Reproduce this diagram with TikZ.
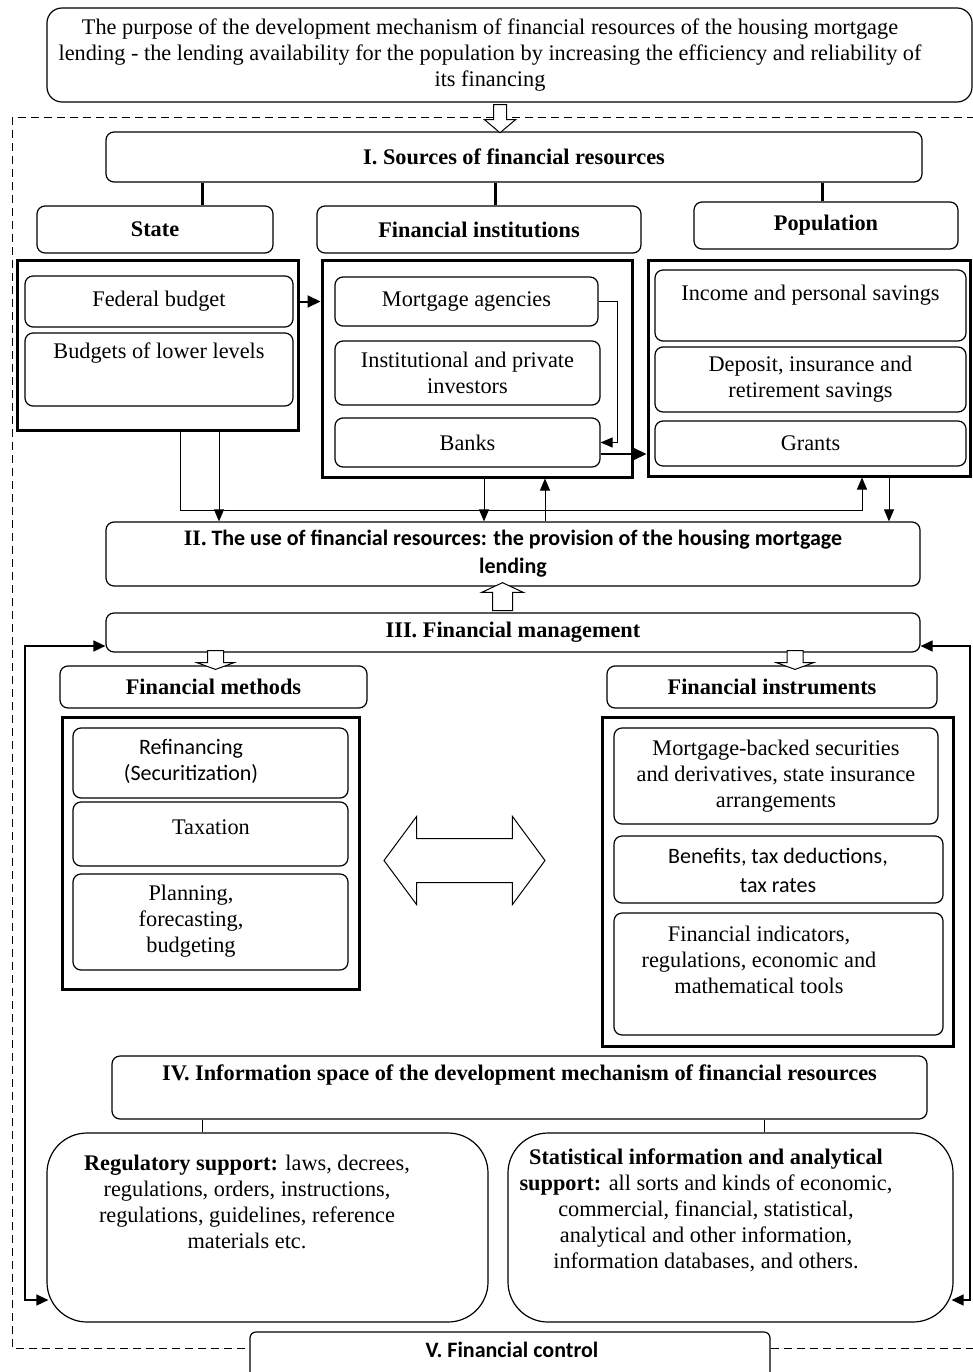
\documentclass[tikz,border=0pt]{standalone}
\usepackage{fontspec}
\setmainfont{Liberation Serif}
\newfontfamily\calfont{Carlito}
\usetikzlibrary{shapes.arrows,arrows.meta}

\begin{document}
\begin{tikzpicture}[x=1pt,y=-1pt,
  sz/.style 2 args={minimum width=#1pt,minimum height=#2pt},
  box/.style={draw,rounded corners=8pt,line width=1.2pt,inner sep=0pt},
  frm/.style={draw,line width=3pt,inner sep=0pt},
  txt/.style={align=center,inner sep=0pt,font=\fontsize{22.3}{26}\selectfont},
  hd/.style={txt,font=\fontsize{22.3}{26}\selectfont\bfseries},
  cal/.style={txt,font=\fontsize{22}{26}\selectfont\calfont},
  link/.style={line width=1pt,-{Triangle[length=12pt,width=10pt]}},
  bold/.style={line width=2pt,-{Triangle[length=13pt,width=12pt]}},
  hollow/.style={draw,line width=1pt,fill=white},
  frame/.style={line width=1pt,dash pattern=on 8pt off 5pt}]
  \useasboundingbox (0,0) rectangle (973,1372);
  \clip (0,0) rectangle (973,1372);
  % columns and levels used by the connectors
  \coordinate (lnS) at (202,0);
  \coordinate (lnF) at (495,0);
  \coordinate (lnP) at (822,0);
  \coordinate (stL) at (180,0);
  \coordinate (stR) at (219,0);
  \coordinate (fiL) at (484,0);
  \coordinate (fiR) at (545,0);
  \coordinate (poL) at (862,0);
  \coordinate (poR) at (889,0);
  \coordinate (busY) at (0,510);
  \coordinate (ivL) at (202,0);
  \coordinate (ivR) at (764,0);
  \coordinate (sideL) at (25,0);
  \coordinate (sideR) at (970,0);
  \coordinate (lowY) at (0,1300);
  \coordinate (fL) at (12,0);
  \coordinate (fR) at (975,0);
  \coordinate (fTop) at (0,118);
  \coordinate (fB) at (0,1348);

  % goal
  \node[box,rounded corners=15pt,sz={925}{94}] (purpose) at (509.5,55) {};
  \node[txt] (purpose-t) at (490,55) {The purpose of the development mechanism of financial resources of the housing mortgage\\lending - the lending availability for the population by increasing the efficiency and reliability of\\its financing};

  % I. sources
  \node[box,hd,sz={816}{50}] (srcI) at (514,157) {I. Sources of financial resources};
  \node[box,hd,sz={236}{47}] (state) at (155,229.5) {State};
  \node[box,hd,sz={324}{47}] (finst) at (479,229.5) {Financial institutions};
  \node[box,hd,sz={264}{47}] (popul) at (826,225.5) {Population};
  \node[frm,sz={281}{170}] (stateF) at (157.5,345) {};
  \node[frm,sz={310}{217}] (finstF) at (477,368.5) {};
  \node[frm,sz={322}{216}] (populF) at (809,368) {};
  \node[box,txt,sz={268}{51}] (fedb) at (159,301.5) {Federal budget};
  \node[box,sz={268}{73}] (lowerb) at (159,369.5) {};
  \node[txt] (lowerb-t) at (159,353) {Budgets of lower levels};
  \node[box,txt,sz={263}{49}] (magen) at (466.5,301.5) {Mortgage agencies};
  \node[box,txt,sz={265}{64}] (invest) at (467.5,373) {Institutional and private\\investors};
  \node[box,txt,sz={265}{49}] (banks) at (467.5,442.5) {Banks};
  \node[box,sz={311}{71}] (income) at (810.5,305.5) {};
  \node[txt] (income-t) at (810.5,295) {Income and personal savings};
  \node[box,txt,sz={311}{65}] (deposit) at (810.5,379.5) {Deposit, insurance and\\retirement savings};
  \node[box,txt,sz={311}{45}] (grants) at (810.5,443.5) {Grants};

  % II. use
  \node[box,txt,font=\fontsize{22}{28}\selectfont\calfont\bfseries,sz={814}{64}] (useII) at (513,554) {{\rmfamily II.} The use of financial resources: the provision of the housing mortgage\\lending};

  % III. management
  \node[box,hd,sz={814}{39}] (mgmtIII) at (513,632.5) {III. Financial management};
  \node[box,hd,sz={307}{42}] (methods) at (213.5,687) {Financial methods};
  \node[box,hd,sz={330}{42}] (instr) at (772,687) {Financial instruments};
  \node[frm,sz={297}{272}] (methF) at (210.5,853) {};
  \node[frm,sz={351}{329}] (instrF) at (777.5,881.5) {};
  \node[box,sz={275}{70}] (refin) at (210.5,763) {};
  \node[cal] (refin-t) at (191,761) {Refinancing\\(Securitization)};
  \node[box,sz={275}{64}] (tax) at (210.5,834) {};
  \node[txt] (tax-t) at (211,827) {Taxation};
  \node[box,sz={275}{96}] (plan) at (210.5,922) {};
  \node[txt] (plan-t) at (191,921) {Planning,\\forecasting,\\budgeting};
  \node[box,txt,sz={324}{96}] (mbs) at (776,776) {Mortgage-backed securities\\and derivatives, state insurance\\arrangements};
  \node[box,sz={329}{67}] (benef) at (778.5,869.5) {};
  \node[cal,font=\fontsize{22}{29}\selectfont\calfont] (benef-t) at (778,870) {Benefits, tax deductions,\\tax rates};
  \node[box,sz={329}{122}] (indic) at (778.5,974) {};
  \node[txt] (indic-t) at (759,960) {Financial indicators,\\regulations, economic and\\mathematical tools};

  % IV. information space
  \node[box,sz={815}{63}] (infoIV) at (519.5,1087.5) {};
  \node[hd] (infoIV-t) at (519.5,1075) {IV. Information space of the development mechanism of financial resources};
  \node[box,rounded corners=40pt,sz={441}{189}] (regul) at (267.5,1227.5) {};
  \node[txt] (regul-t) at (247,1202) {\textbf{Regulatory support:} laws, decrees,\\regulations, orders, instructions,\\regulations, guidelines, reference\\materials etc.};
  \node[box,rounded corners=40pt,sz={445}{189}] (stat) at (730.5,1227.5) {};
  \node[txt] (stat-t) at (706,1210) {\textbf{Statistical information and analytical}\\\textbf{support:} all sorts and kinds of economic,\\commercial, financial, statistical,\\analytical and other information,\\information databases, and others.};

  % V. control
  \node[box,rounded corners=6pt,sz={520}{60}] (ctrlV) at (510,1362) {};
  \node[cal,font=\fontsize{22}{26}\selectfont\calfont\bfseries] (ctrlV-t) at (512,1350) {V. Financial control};

  % dashed frame
  \draw[frame] (fR |- fTop) -- (fL |- fTop) -- (fL |- fB) -- (ctrlV.west |- fB);
  \draw[frame] (ctrlV.east |- fB) -- (fR |- fB);

  % links
  \draw[line width=3pt] (srcI.south -| lnS) -- (state.north -| lnS);
  \draw[line width=3pt] (srcI.south -| lnF) -- (finst.north -| lnF);
  \draw[line width=3pt] (srcI.south -| lnP) -- (popul.north -| lnP);
  \draw[bold] (stateF.east |- fedb.east) -- (finstF.west |- fedb.east);
  \draw[link] (magen.east) -- ++(19,0) |- (banks.east);
  \draw[bold] ([yshift=-11.5pt]banks.east) -- ([yshift=-11.5pt]banks.east -| populF.west);
  \draw[link] (stateF.south -| stR) -- (useII.north -| stR);
  \draw[link] (stateF.south -| stL) |- (poL |- busY) -- (populF.south -| poL);
  \draw[link] (finstF.south -| fiL) -- (useII.north -| fiL);
  \draw[link] (useII.north -| fiR) -- (finstF.south -| fiR);
  \draw[link] (populF.south -| poR) -- (useII.north -| poR);
  \draw[line width=1.5pt,{Triangle[length=12pt,width=11pt]}-{Triangle[length=12pt,width=11pt]}] ([yshift=-13.5pt]mgmtIII.west) -| (sideL |- lowY) -- ([xshift=2pt]regul.west |- lowY);
  \draw[line width=1.5pt,{Triangle[length=12pt,width=11pt]}-{Triangle[length=12pt,width=11pt]}] ([yshift=-13.5pt]mgmtIII.east) -| (sideR |- lowY) -- ([xshift=-2pt]stat.east |- lowY);
  \draw[line width=1pt] (infoIV.south -| ivL) -- (regul.north -| ivL);
  \draw[line width=1pt] (infoIV.south -| ivR) -- (stat.north -| ivR);

  % hollow arrows
  \node[hollow,single arrow,rotate=-90,minimum height=28pt,inner sep=6pt,single arrow head extend=9pt,single arrow tip angle=100] (goalArr) at (500,116) {};
  \node[hollow,single arrow,rotate=90,minimum height=28pt,inner sep=9.5pt,single arrow head extend=11pt,single arrow tip angle=130] (mgmtArr) at (502.5,599) {};
  \node[hollow,single arrow,rotate=-90,minimum height=13pt,inner sep=7.5pt,single arrow head extend=10.5pt,single arrow tip angle=140] (methArr) at (215.5,658.5) {};
  \node[hollow,single arrow,rotate=-90,minimum height=13pt,inner sep=7.5pt,single arrow head extend=10.5pt,single arrow tip angle=140] (instrArr) at (795,658.5) {};
  \node[hollow,double arrow,minimum height=161pt,inner sep=21.5pt,double arrow head extend=22pt,double arrow tip angle=107] (bothArr) at (464.5,860.5) {};
\end{tikzpicture}
\end{document}
